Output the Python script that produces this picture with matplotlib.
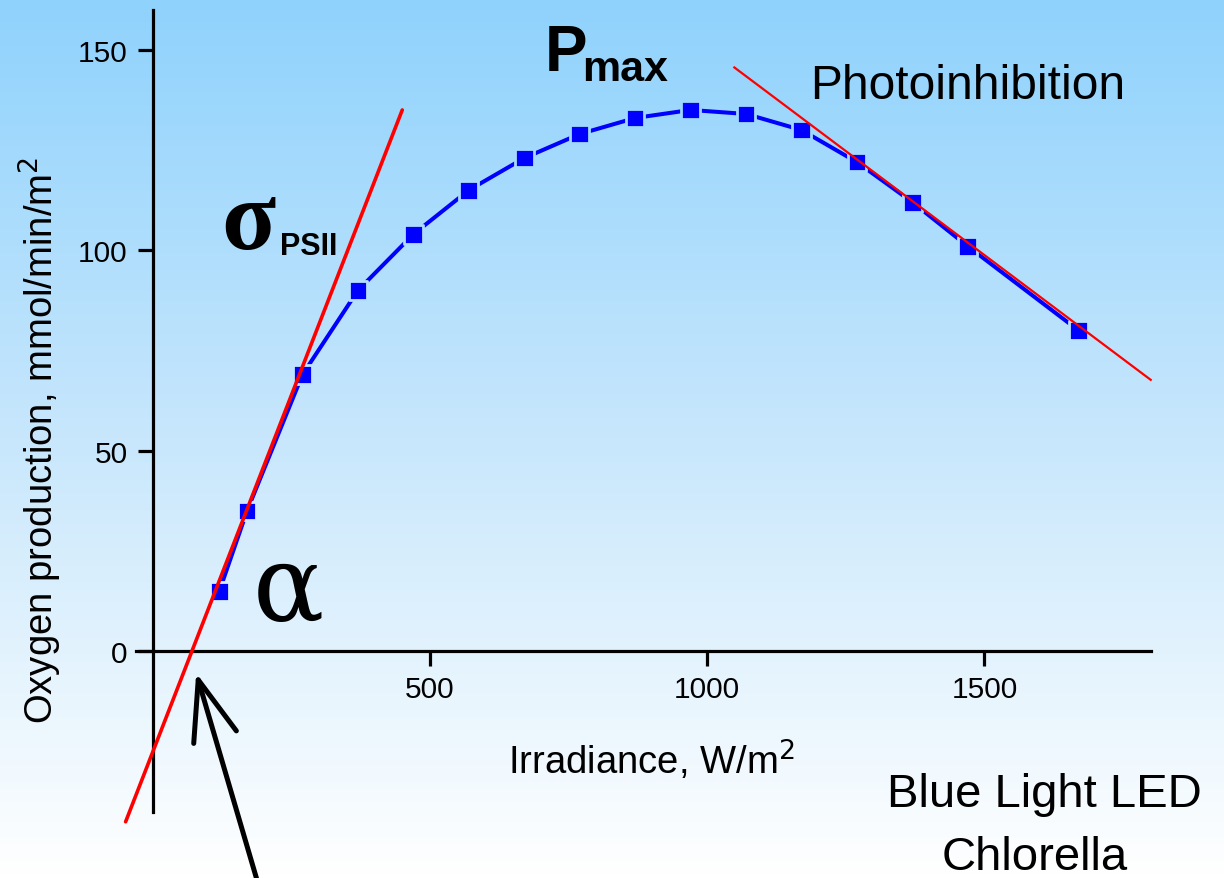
import numpy as np
import matplotlib
matplotlib.use("Agg")
import matplotlib.pyplot as plt
from matplotlib.colors import LinearSegmentedColormap

# ---- data ----
irradiance = [120, 170, 270, 370, 470, 570, 670, 770, 870, 970, 1070, 1170, 1270, 1370, 1470, 1670]
oxygen = [15, 35, 69, 90, 104, 115, 123, 129, 133, 135, 134, 130, 122, 112, 101, 80]

# fitted tangent lines (end points)
alpha_line_x = [-49, 450]
alpha_line_y = [-42.5, 135]
inhib_line_x = [1049, 1800]
inhib_line_y = [145.6, 67.7]

x_ticks = [500, 1000, 1500]
y_ticks = [0, 50, 100, 150]

plt.rcParams['font.family'] = ['Liberation Sans', 'DejaVu Sans']

W, H = 1224, 879
fig = plt.figure(figsize=(W / 100, H / 100), dpi=100)

# background gradient
bg = fig.add_axes([0, 0, 1, 1])
cmap = LinearSegmentedColormap.from_list('bg', ['#8FD2FC', '#C8E7FC', '#FFFFFF'])
grad = np.linspace(0, 1, 256).reshape(-1, 1)
bg.imshow(grad, aspect='auto', cmap=cmap, extent=[0, 1, 0, 1], origin='upper')
bg.set_axis_off()

ax = fig.add_axes([0, 0, 1, 1])
ax.patch.set_alpha(0)
ax.set_xlim(-275.6, 1932.2)
ax.set_ylim(-56.53, 162.67)

for s in ['top', 'right']:
    ax.spines[s].set_visible(False)
ax.spines['left'].set_position(('data', 0))
ax.spines['bottom'].set_position(('data', 0))
ax.spines['left'].set_bounds(-40, 160)
ax.spines['bottom'].set_bounds(-30, 1800)
for s in ['left', 'bottom']:
    ax.spines[s].set_linewidth(2.3)
    ax.spines[s].set_color('black')

ax.set_xticks(x_ticks)
ax.set_yticks(y_ticks)
ax.tick_params(axis='both', direction='out', length=11, width=2.3, labelsize=21.5, color='black')
ax.tick_params(axis='y', pad=7)
ax.tick_params(axis='x', pad=6)

# data
ax.plot(irradiance, oxygen, color='#0000FF', lw=2.9, zorder=3)
# marker edge in local background colour gives the small gaps around the squares
pts = ax.transData.transform(np.column_stack([irradiance, oxygen]))
edge_cols = [cmap(1 - p[1] / H) for p in pts]
ax.scatter(irradiance, oxygen, marker='s', s=13.5 ** 2, c='#0000FF',
           edgecolors=edge_cols, linewidths=2.0, zorder=3.5)
ax.plot(alpha_line_x, alpha_line_y, color='#FF0000', lw=2.6, zorder=4, solid_capstyle='round')
ax.plot(inhib_line_x, inhib_line_y, color='#FF0000', lw=1.6, zorder=4)

# axis labels
ax.text(898.6, -30.6, 'Irradiance, W/m$^2$', fontsize=27.5, ha='center', va='baseline')
fig.text(40 / W, 1 - 440 / H, 'Oxygen production, mmol/min/m$^2$', fontsize=27.5,
         rotation=90, ha='center', va='center')

# annotations
ax.text(707.4, 145.0, 'P', fontsize=46, fontweight='bold', ha='left', va='baseline')
ax.text(775, 142.5, 'max', fontsize=31, fontweight='bold', ha='left', va='baseline')
ax.text(123, 100.5, 'σ', fontsize=72, fontweight='bold',
        family=['Liberation Serif', 'DejaVu Serif'], ha='left', va='baseline')
ax.text(229.8, 99.1, 'PSII', fontsize=22, fontweight='bold', ha='left', va='baseline')
ax.text(180, 7.8, 'α', fontsize=76,
        family=['DejaVu Serif'], ha='left', va='baseline')
ax.text(1185, 138.0, 'Photoinhibition', fontsize=34.5, ha='left', va='baseline')
ax.text(1609, -38.5, 'Blue Light LED', fontsize=34, ha='center', va='baseline')
ax.text(1591, -54.3, 'Chlorella', fontsize=34, ha='center', va='baseline')

ax.annotate('', xy=(78.3, -5.4), xytext=(190, -58), annotation_clip=False,
            arrowprops=dict(arrowstyle='->,head_length=4.3,head_width=1.6',
                            mutation_scale=10, lw=3.6, color='black',
                            shrinkA=0, shrinkB=0, capstyle='round'))

fig.savefig('out.png', dpi=100)
